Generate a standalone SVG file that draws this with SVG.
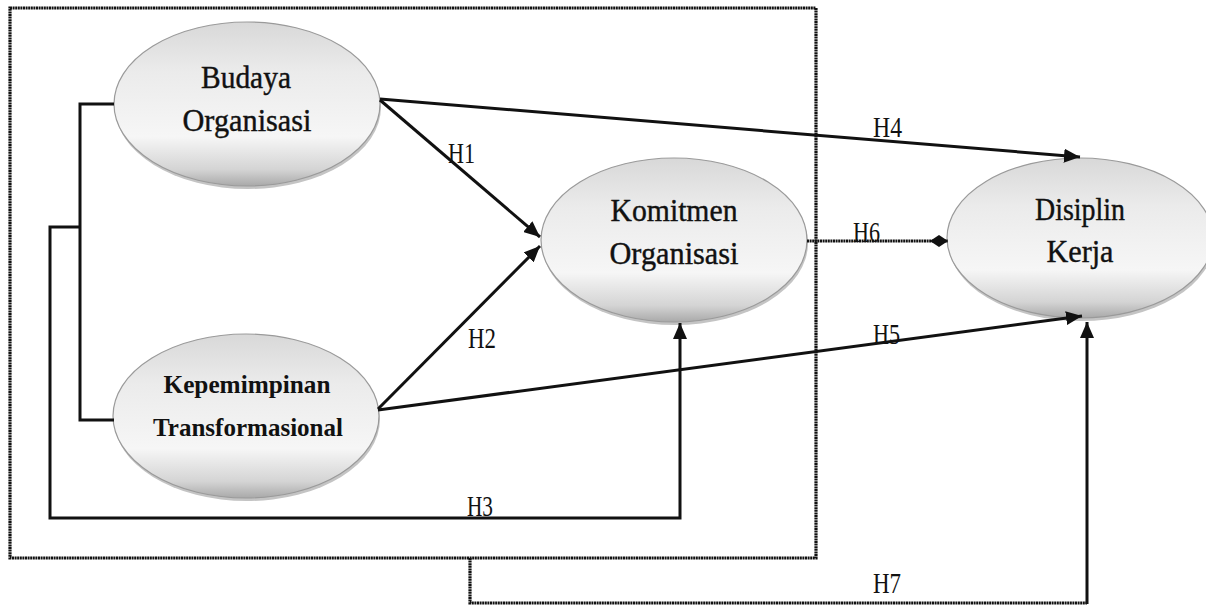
<svg xmlns="http://www.w3.org/2000/svg" width="1206" height="607" viewBox="0 0 1206 607">
<style>
.node-shape{fill:url(#eg);stroke:#9a9a9a;stroke-width:1.2}
.shadow{fill:#c4c4c4}
.t{font-family:"Liberation Serif","Times New Roman",serif;font-size:31px;fill:#111;stroke:#111;stroke-width:0.4;text-anchor:middle}
.tb{font-family:"Liberation Serif","Times New Roman",serif;font-size:26px;font-weight:bold;fill:#111;text-anchor:middle}
.lbl{font-family:"Liberation Serif","Times New Roman",serif;font-size:29px;fill:#111}
.ln{fill:none;stroke:#111;stroke-width:3}
.dot{fill:none;stroke:#111;stroke-width:3.2;stroke-dasharray:2 0.6}
</style>
<defs>
<linearGradient id="eg" x1="0" y1="0" x2="0" y2="1">
<stop offset="0" stop-color="#d8d8d8"/>
<stop offset="0.3" stop-color="#ebebeb"/>
<stop offset="0.7" stop-color="#f6f6f6"/>
<stop offset="0.9" stop-color="#d4d4d4"/>
<stop offset="1" stop-color="#a9a9a9"/>
</linearGradient>
<marker id="arr" markerUnits="userSpaceOnUse" markerWidth="18" markerHeight="14" refX="16" refY="7" orient="auto">
<path d="M0,0 L16,7 L0,14 Z" fill="#111"/>
</marker>
<marker id="dia" markerUnits="userSpaceOnUse" markerWidth="20" markerHeight="14" refX="18" refY="7" orient="auto">
<path d="M0,7 L9,1 L18,7 L9,13 Z" fill="#111"/>
</marker>
</defs>
<rect width="1206" height="607" fill="#fff"/>
<g id="frame">
<rect x="10" y="8" width="806" height="550" class="dot"/>
</g>
<g id="node-budaya">
<ellipse cx="248" cy="107" rx="133" ry="82" class="shadow"/>
<ellipse cx="247" cy="104" rx="133" ry="82" class="node-shape"/>
<text x="246" y="88" class="t" textLength="90" lengthAdjust="spacingAndGlyphs">Budaya</text>
<text x="247" y="131" class="t" textLength="129" lengthAdjust="spacingAndGlyphs">Organisasi</text>
</g>
<g id="node-kepemimpinan">
<ellipse cx="247" cy="419" rx="133" ry="82" class="shadow"/>
<ellipse cx="246" cy="416" rx="133" ry="82" class="node-shape"/>
<text x="247" y="393" class="tb" textLength="167" lengthAdjust="spacingAndGlyphs">Kepemimpinan</text>
<text x="248" y="436" class="tb" textLength="190" lengthAdjust="spacingAndGlyphs">Transformasional</text>
</g>
<g id="node-komitmen">
<ellipse cx="675" cy="243" rx="133" ry="82" class="shadow"/>
<ellipse cx="674" cy="240" rx="133" ry="82" class="node-shape"/>
<text x="674" y="221" class="t" textLength="127" lengthAdjust="spacingAndGlyphs">Komitmen</text>
<text x="674" y="264" class="t" textLength="129" lengthAdjust="spacingAndGlyphs">Organisasi</text>
</g>
<g id="node-disiplin">
<ellipse cx="1081" cy="241" rx="133" ry="80" class="shadow"/>
<ellipse cx="1080" cy="238" rx="133" ry="80" class="node-shape"/>
<text x="1080" y="220" class="t" textLength="90" lengthAdjust="spacingAndGlyphs">Disiplin</text>
<text x="1080" y="262" class="t" textLength="67" lengthAdjust="spacingAndGlyphs">Kerja</text>
</g>
<g id="connectors">
<path d="M114,104 H80 V420 H114" class="ln"/>
<path d="M80,227 H50 V518 H680 V323" class="ln" stroke-width="2.6" marker-end="url(#arr)"/>
<path d="M380,100 L540,237" class="ln" marker-end="url(#arr)"/>
<path d="M378,409 L540,246" class="ln" marker-end="url(#arr)"/>
<path d="M380,99 L1080,157" class="ln" marker-end="url(#arr)"/>
<path d="M378,410 L1082,316" class="ln" marker-end="url(#arr)"/>
<path d="M807,241 H948" class="dot" marker-end="url(#dia)"/>
<path d="M470,558 V603 H1087" class="dot"/>
<path d="M1087,604 V322" class="ln" marker-end="url(#arr)"/>
</g>
<g id="labels">
<text x="448" y="163" class="lbl" textLength="27" lengthAdjust="spacingAndGlyphs">H1</text>
<text x="468" y="348" class="lbl" textLength="28" lengthAdjust="spacingAndGlyphs">H2</text>
<text x="467" y="516" class="lbl" textLength="26" lengthAdjust="spacingAndGlyphs">H3</text>
<text x="873" y="137" class="lbl" textLength="29" lengthAdjust="spacingAndGlyphs">H4</text>
<text x="873" y="344" class="lbl" textLength="27" lengthAdjust="spacingAndGlyphs">H5</text>
<text x="853" y="242" class="lbl" textLength="27" lengthAdjust="spacingAndGlyphs">H6</text>
<text x="873" y="593" class="lbl" textLength="28" lengthAdjust="spacingAndGlyphs">H7</text>
</g>
</svg>
